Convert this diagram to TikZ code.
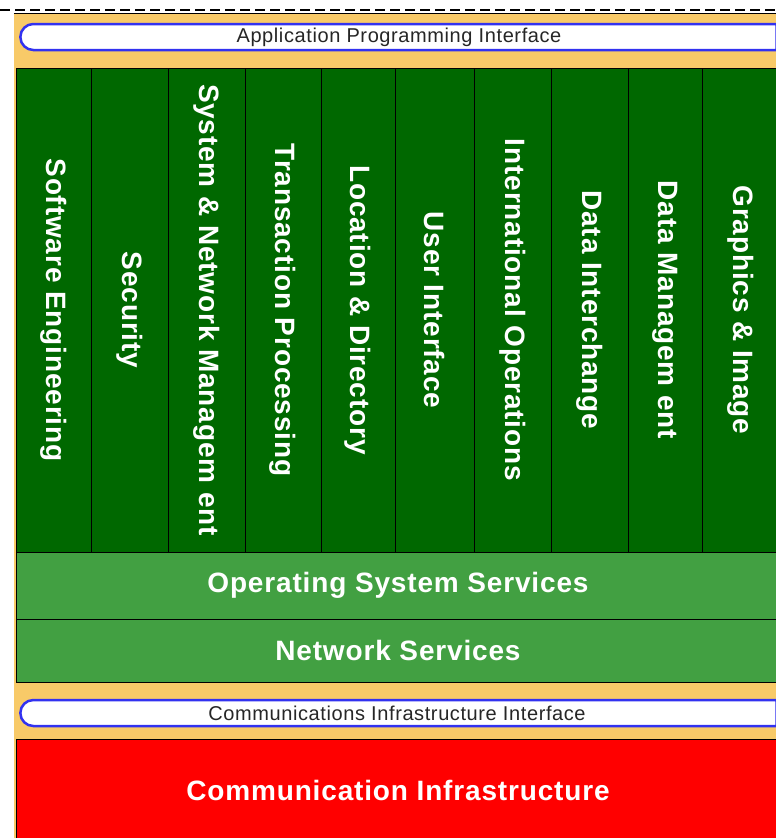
\documentclass[tikz,border=0pt]{standalone}
\usepackage{fontspec}
\setmainfont{Liberation Sans}
\newfontfamily\spacedfont{Liberation Sans}[LetterSpace=3]
\usetikzlibrary{shapes.misc}
\definecolor{panelorange}{RGB}{248,202,104}
\definecolor{svcgreen}{RGB}{0,104,0}
\definecolor{bandgreen}{RGB}{66,160,66}
\definecolor{ifblue}{RGB}{50,50,240}
\definecolor{infrared}{RGB}{255,0,0}
\tikzset{ svc/.style = { rectangle % service column
        , draw = black
        , fill = svcgreen
        , rotate = -90
        , minimum width = 484pt
        , inner sep = 0pt
        , text = white
        , font = \spacedfont\fontsize{28}{30}\selectfont\bfseries
        }
        , band/.style = { rectangle % service band
        , draw = black
        , fill = bandgreen
        , minimum width = 764pt
        , inner sep = 0pt
        , text = white
        , font = \spacedfont\fontsize{28}{30}\selectfont\bfseries
        }
        , iface/.style = { rounded rectangle % interface
        , rounded rectangle right arc = none
        , draw = ifblue
        , line width = 2.5pt
        , fill = white
        , minimum width = 763pt
        , minimum height = 26pt
        }
        }

\begin{document}
\begin{tikzpicture}[x=1pt, y=-1pt,
        panel_style/.style={rectangle,fill=panelorange,minimum width=776pt,minimum height=837pt},
        iface_text_style/.style={text=black!85,font=\spacedfont\fontsize{20}{22}\selectfont},
        infra_style/.style={rectangle,draw=black,fill=infrared,minimum width=764pt,minimum height=102pt,text=white,font=\spacedfont\fontsize{28}{30}\selectfont\bfseries}]
        \useasboundingbox (0,0) rectangle (776,838);
        \clip (0,0) rectangle (776,838);

        \draw [line width=2pt, dash pattern=on 10pt off 5pt] (0,10) -- (776,10);
        \node [panel_style] (panel) at (402,431.5) {};
        \draw [thin] (panel.north west) -- (panel.north east);

        \node [iface] (api) at (398.5,37) {};
        \node [iface_text_style] (apitext) at (399,37) {Application Programming Interface};

        \node [svc,minimum height=75pt] (c1) at (53.5,310) {Software Engineering};
        \node [svc,minimum height=77pt] (c2) at (129.5,310) {Security};
        \node [svc,minimum height=77pt] (c3) at (206.5,310) {System \& Network Managem ent};
        \node [svc,minimum height=76pt] (c4) at (283,310) {Transaction Processing};
        \node [svc,minimum height=74pt] (c5) at (358,310) {Location \& Directory};
        \node [svc,minimum height=79pt] (c6) at (434.5,310) {User Interface};
        \node [svc,minimum height=77pt] (c7) at (512.5,310) {International Operations};
        \node [svc,minimum height=77pt] (c8) at (589.5,310) {Data Interchange};
        \node [svc,minimum height=74pt] (c9) at (665,310) {Data Managem ent};
        \node [svc,minimum height=77pt] (c10) at (740.5,310) {Graphics \& Image};

        \node [band,minimum height=67pt] (oss) at (398,585.5) {Operating System Services};
        \node [band,minimum height=63pt] (ns) at (398,650.5) {Network Services};

        \node [iface] (cii) at (398.5,713) {};
        \node [iface_text_style] (ciitext) at (397,713) {Communications Infrastructure Interface};

        \node [infra_style] (ci) at (398,790) {Communication Infrastructure};
        
        \end{tikzpicture}
\end{document}
